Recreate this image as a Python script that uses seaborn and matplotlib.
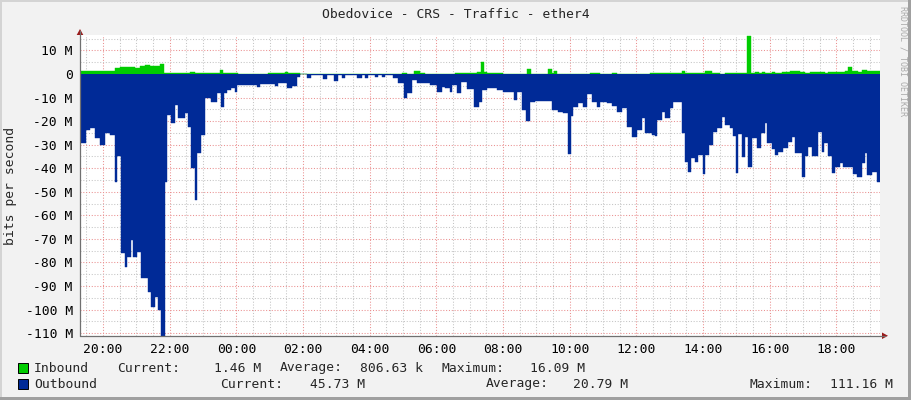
import matplotlib
matplotlib.use("Agg")
import matplotlib.pyplot as plt
import matplotlib.dates as mdates
from matplotlib.patches import Rectangle, Polygon
from matplotlib.lines import Line2D
from matplotlib.ticker import FuncFormatter, MultipleLocator
import numpy as np
import pandas as pd
import seaborn as sns

# ---------------- data ----------------
title = "Obedovice - CRS - Traffic - ether4"
y_label = "bits per second"
base_date = "2024-05-14"
window_start = "19:18:36"
window_hours = 24

# Outbound (drawn downward), Mbit/s, step starts
out_times = ["19:18", "19:29", "19:37", "19:46", "19:55", "20:04", "20:13", "20:22", "20:25", "20:32",
             "20:40", "20:43", "20:50", "20:54", "21:01", "21:08", "21:21", "21:26", "21:34", "21:39",
             "21:44", "21:52", "21:55", "22:02", "22:10", "22:15", "22:28", "22:33", "22:38", "22:46",
             "22:49", "22:56", "23:04", "23:14", "23:25", "23:32", "23:38", "23:43", "23:50", "23:58",
             "00:01", "00:16", "00:30", "00:37", "00:43", "00:57", "01:10", "01:15", "01:31", "01:40",
             "01:49", "01:55", "02:07", "02:14", "02:36", "02:43", "02:56", "03:03", "03:10", "03:16",
             "03:37", "03:46", "03:52", "03:57", "04:10", "04:15", "04:22", "04:28", "04:42", "04:51",
             "05:02", "05:07", "05:16", "05:25", "05:49", "06:01", "06:10", "06:16", "06:25", "06:28",
             "06:37", "06:44", "06:55", "07:08", "07:17", "07:22", "07:31", "07:49", "08:00", "08:20",
             "08:25", "08:34", "08:41", "08:49", "08:58", "09:28", "09:39", "09:48", "09:57", "10:02",
             "10:06", "10:15", "10:24", "10:31", "10:40", "10:49", "10:55", "11:07", "11:16", "11:25",
             "11:34", "11:43", "11:52", "12:01", "12:10", "12:16", "12:28", "12:34", "12:37", "12:46",
             "12:52", "13:01", "13:06", "13:22", "13:28", "13:33", "13:38", "13:46", "13:51", "14:00",
             "14:04", "14:11", "14:18", "14:25", "14:34", "14:40", "14:49", "14:54", "14:59", "15:03",
             "15:10", "15:16", "15:21", "15:28", "15:37", "15:44", "15:52", "15:55", "16:04", "16:10",
             "16:15", "16:24", "16:33", "16:40", "16:46", "16:58", "17:04", "17:09", "17:16", "17:27",
             "17:34", "17:38", "17:45", "17:52", "17:58", "18:07", "18:12", "18:21", "18:30", "18:37",
             "18:46", "18:52", "18:55", "19:04", "19:13"]
out_mbps = [29.2, 23.8, 22.8, 27.3, 30.2, 24.9, 25.9, 45.7, 35.0, 75.9,
            81.8, 77.5, 70.5, 77.5, 75.4, 86.8, 92.4, 99.0, 94.5, 100.2,
            111.16, 45.7, 17.4, 21.0, 13.2, 18.8, 16.7, 22.4, 40.0, 53.5,
            33.7, 25.9, 10.0, 11.7, 8.2, 13.9, 8.2, 7.0, 6.0, 7.5,
            4.7, 4.5, 4.7, 5.4, 4.1, 4.1, 5.2, 3.8, 6.1, 5.2,
            1.1, 0.2, 1.5, 0.3, 2.3, 0.3, 2.8, 0.3, 1.5, 0.3,
            1.5, 0.3, 1.5, 0.3, 1.1, 0.3, 1.1, 0.3, 1.8, 3.8,
            10.0, 7.9, 2.6, 3.8, 4.7, 7.5, 5.4, 6.1, 7.5, 4.7,
            8.0, 3.3, 6.5, 13.9, 11.7, 6.8, 5.8, 6.8, 7.5, 11.0,
            7.5, 15.3, 19.8, 11.7, 11.3, 15.3, 16.0, 16.7, 34.0, 17.8,
            13.9, 12.5, 14.2, 8.5, 11.7, 13.9, 11.7, 12.5, 13.6, 16.0,
            14.6, 22.4, 26.6, 23.8, 18.8, 25.2, 25.9, 26.3, 19.5, 16.0,
            18.8, 14.6, 11.7, 25.2, 37.2, 41.5, 35.5, 37.2, 34.4, 42.5,
            34.4, 30.2, 24.5, 23.0, 18.4, 21.6, 23.0, 26.3, 42.2, 25.5,
            35.4, 26.6, 39.4, 27.3, 31.5, 25.2, 20.7, 29.4, 32.0, 34.4,
            33.0, 31.5, 28.7, 26.6, 33.7, 43.6, 35.0, 30.9, 34.8, 24.5,
            33.0, 29.4, 35.0, 42.2, 39.4, 38.0, 39.4, 39.7, 42.5, 43.6,
            38.0, 33.7, 43.0, 41.5, 45.73]

# Inbound (drawn upward), Mbit/s, step starts
in_times = ["19:18", "19:55", "20:22", "20:31", "20:58", "21:07", "21:16", "21:25", "21:43", "21:50",
            "22:01", "22:37", "22:46", "23:31", "23:36", "00:03", "00:57", "01:28", "01:33", "01:55",
            "04:59", "05:07", "05:20", "05:31", "05:40", "06:34", "07:13", "07:20", "07:26", "07:31",
            "08:00", "08:43", "08:50", "09:21", "09:28", "09:32", "09:37", "10:37", "10:55", "11:16",
            "11:25", "12:24", "13:19", "13:22", "13:28", "14:04", "14:16", "14:31", "14:40", "15:19",
            "15:26", "15:34", "15:41", "15:46", "15:52", "16:04", "16:10", "16:22", "16:37", "16:55",
            "17:04", "17:13", "17:40", "17:45", "18:16", "18:21", "18:28", "18:39", "18:46", "18:55"]
in_mbps = [1.3, 1.2, 2.5, 2.8, 2.4, 3.5, 4.0, 3.5, 4.2, 0.5,
           0.4, 0.8, 0.4, 1.8, 0.4, 0.2, 0.6, 1.0, 0.6, 0.0,
           0.3, 0.0, 1.4, 0.4, 0.1, 0.3, 0.9, 5.0, 0.9, 0.3,
           0.1, 2.0, 0.2, 2.1, 0.5, 1.2, 0.2, 0.3, 0.1, 0.5,
           0.2, 0.3, 0.5, 1.2, 0.3, 1.3, 0.3, 0.1, 0.3, 16.09,
           0.3, 0.7, 0.3, 0.8, 0.3, 0.8, 0.4, 1.0, 1.2, 1.0,
           0.5, 0.9, 0.5, 0.9, 1.2, 3.1, 1.3, 1.0, 1.7, 1.46]

series_names = ["Inbound", "Outbound"]
legend_current = ["1.46 M", "45.73 M"]
legend_average = ["806.63 k", "20.79 M"]
legend_maximum = ["16.09 M", "111.16 M"]

y_min, y_max = -111.25, 16.56

# ---------------- helpers ----------------
def to_datetimes(times, base):
    res, day, prev = [], 0, None
    for t in times:
        h, m = map(int, t.split(":"))
        mins = h * 60 + m
        if prev is not None and mins < prev:
            day += 1
        prev = mins
        res.append(pd.Timestamp(base) + pd.Timedelta(days=day, minutes=mins))
    return res

t0 = pd.Timestamp(base_date + " " + window_start)
t1 = t0 + pd.Timedelta(hours=window_hours)

df_out = pd.DataFrame({"time": to_datetimes(out_times, base_date) + [t1],
                       "value": [-v for v in out_mbps] + [-out_mbps[-1]]})
df_in = pd.DataFrame({"time": to_datetimes(in_times, base_date) + [t1],
                      "value": in_mbps + [in_mbps[-1]]})

# ---------------- style ----------------
BG = "#f2f2f2"
GREEN = "#00cc00"
BLUE = "#002a97"
MONO = "DejaVu Sans Mono"
W, H = 911, 400
FS = 9.4

sns.set_style("white")
plt.rcParams["font.family"] = [MONO, "DejaVu Sans"]

fig = plt.figure(figsize=(W / 100, H / 100), dpi=100, facecolor=BG)

def fx(x):
    return x / W

def fy(y):
    return 1 - y / H

L, R, T, B = 80, 880, 35, 336
ax = fig.add_axes([fx(L), fy(B), (R - L) / W, (B - T) / H])
ax.set_facecolor("white")
ax.set_axisbelow(True)

# thin step outlines (under the fills)
sns.lineplot(data=df_out, x="time", y="value", ax=ax, color=BLUE, lw=0.3,
             drawstyle="steps-post", zorder=2)
sns.lineplot(data=df_in, x="time", y="value", ax=ax, color=GREEN, lw=0.3,
             drawstyle="steps-post", zorder=2)
ax.fill_between(df_out["time"], df_out["value"], 0, step="post", color=BLUE, lw=0, zorder=3)
ax.fill_between(df_in["time"], df_in["value"], 0, step="post", color=GREEN, lw=0, zorder=3)

ax.set_xlim(t0, t1)
ax.set_ylim(y_min, y_max)

ax.xaxis.set_major_locator(mdates.HourLocator(byhour=range(0, 24, 2)))
ax.xaxis.set_minor_locator(mdates.MinuteLocator(byminute=[0, 30]))
ax.xaxis.set_major_formatter(mdates.DateFormatter("%H:%M"))
ax.yaxis.set_major_locator(MultipleLocator(10))
ax.yaxis.set_minor_locator(MultipleLocator(5))
ax.yaxis.set_major_formatter(FuncFormatter(lambda v, p: "0" if abs(v) < 1e-9 else f"{int(round(v))} M"))

ax.grid(which="minor", axis="both", color="#c4c4c4", lw=0.75, linestyle=(0, (1, 1.7)))
ax.grid(which="major", axis="both", color="#ea9090", lw=0.75, linestyle=(0, (1, 1.7)))

ax.tick_params(axis="both", which="both", length=2.2, width=0.8, color="#707070",
               labelsize=FS, labelcolor="black", pad=3)
for lab in ax.get_xticklabels() + ax.get_yticklabels():
    lab.set_family(MONO)

ax.set_xlabel("")
ax.set_ylabel("")
for s in ax.spines.values():
    s.set_visible(False)

# axes with arrows
fig.add_artist(Line2D([fx(L), fx(885)], [fy(B), fy(B)], color="#707070", lw=0.9))
fig.add_artist(Line2D([fx(L), fx(L)], [fy(B), fy(31)], color="#707070", lw=0.9))
fig.add_artist(Polygon([(fx(882), fy(332.5)), (fx(888), fy(335.8)), (fx(882), fy(339))],
                       closed=True, color="#9b1a1a", lw=0))
fig.add_artist(Polygon([(fx(76.7), fy(35)), (fx(80), fy(29)), (fx(83.3), fy(35))],
                       closed=True, color="#9b1a1a", lw=0))

# title, axis label, watermark
fig.text(fx(455.5), fy(14), title, ha="center", va="center", fontsize=FS, family=MONO)
fig.text(fx(11), fy(185.5), y_label, ha="center", va="center", rotation=90,
         fontsize=FS, family=MONO)
fig.text(fx(903), fy(61), "RRDTOOL / TOBI OETIKER", ha="center", va="center",
         rotation=270, fontsize=6.0, family=MONO, color="#aaaaaa")

# legend
rows_y = [368, 384]
colors = [GREEN, BLUE]
label_x = [[117, 280, 442], [220, 486, 750]]
value_x = [[261, 423, 585], [365, 628, 893]]
for i in range(2):
    y = rows_y[i]
    fig.add_artist(Rectangle((fx(17.5), fy(y + 5)), 10.5 / W, 10.5 / H, facecolor=colors[i],
                             edgecolor="black", lw=0.7))
    fig.text(fx(34), fy(y), series_names[i], ha="left", va="center", fontsize=FS, family=MONO)
    vals = [legend_current[i], legend_average[i], legend_maximum[i]]
    for lab, lx, vx, v in zip(["Current:", "Average:", "Maximum:"], label_x[i], value_x[i], vals):
        fig.text(fx(lx), fy(y), lab, ha="left", va="center", fontsize=FS, family=MONO)
        fig.text(fx(vx), fy(y), v, ha="right", va="center", fontsize=FS, family=MONO)

# frame shading (3D border)
fig.add_artist(Rectangle((0, fy(2)), 1, 2 / H, facecolor="#d4d4d4", lw=0))
fig.add_artist(Rectangle((0, 0), 2 / W, 1, facecolor="#d4d4d4", lw=0))
fig.add_artist(Rectangle((fx(908), 0), 3 / W, 1, facecolor="#a0a0a0", lw=0))
fig.add_artist(Rectangle((0, 0), 1, 3 / H, facecolor="#a0a0a0", lw=0))

fig.savefig("out.png", dpi=100, facecolor=BG)
